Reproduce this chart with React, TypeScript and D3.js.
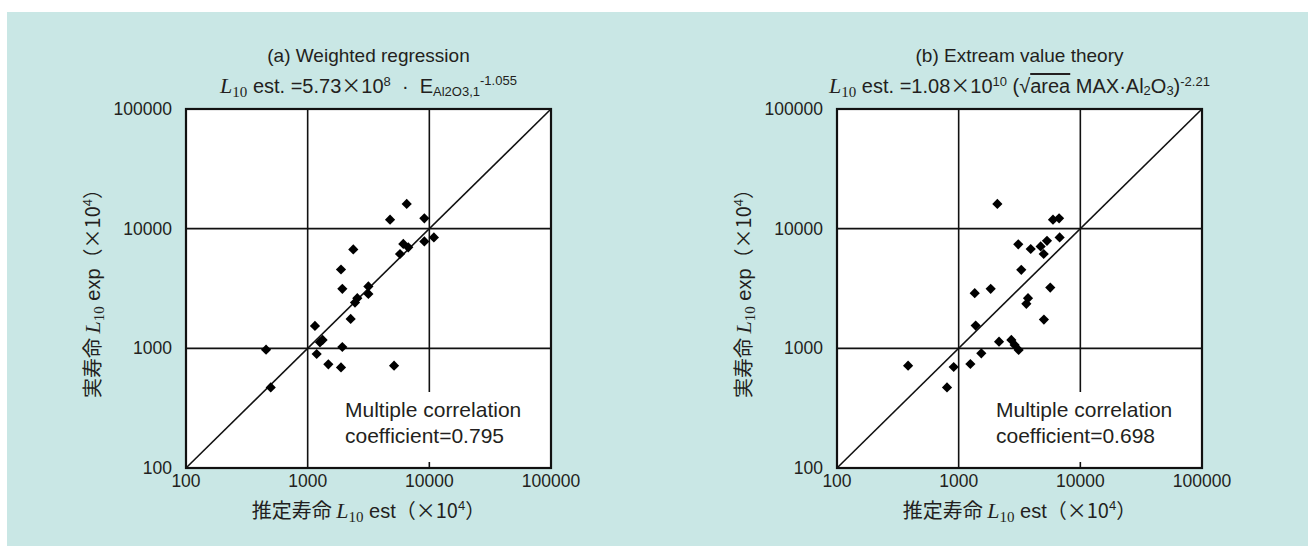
import React from "react";
import * as d3 from "d3";

const tickValues = [100, 1000, 10000, 100000];
const tickLabels = ["100", "1000", "10000", "100000"];

const estA = [6516, 4755, 9100, 6110, 6710, 9100, 10900, 5740, 2371, 1879, 1927, 3155, 3155, 2558, 2449, 2256, 1148, 1327, 1262, 1927, 455, 1186, 1479, 1879, 5130, 497];
const expA = [16100, 11900, 12200, 7450, 6980, 7830, 8450, 6140, 6710, 4560, 3140, 3290, 2850, 2624, 2414, 1762, 1538, 1175, 1122, 1026, 975, 897, 735, 693, 716, 471];

const estB = [2080, 5960, 6690, 6760, 5320, 4720, 5000, 3910, 3090, 3270, 1833, 1355, 5660, 3715, 3600, 5020, 1380, 2147, 2710, 2884, 3112, 1535, 1248, 910, 384, 802];
const expB = [16100, 11900, 12200, 8450, 7920, 7110, 6140, 6760, 7400, 4530, 3140, 2890, 3220, 2624, 2356, 1738, 1548, 1137, 1175, 1067, 968, 908, 740, 698, 716, 471];

const titles = ["(a) Weighted regression", "(b) Extream value theory"];
const corrText = ["coefficient=0.795", "coefficient=0.698"];

const FONT = "'Liberation Sans', Arial, Helvetica, sans-serif";
const CJK = "'Noto Sans CJK JP', sans-serif";
const SERIF = "'Liberation Serif', 'DejaVu Serif', serif";
const TXT = "#231f20";

function Panel({ left, est, exp, title, corr, eq }: any) {
  const top = 109, size = 365, h = 359;
  const x = d3.scaleLog().domain([100, 100000]).range([left, left + size]);
  const y = d3.scaleLog().domain([100, 100000]).range([top + h, top]);
  const cx = left + size / 2;
  const diamond = d3.symbol(d3.symbolSquare, 52)() as string;
  return (
    <g fontFamily={FONT} fill={TXT}>
      <text x={cx} y={62} textAnchor="middle" fontSize={19}>{title}</text>
      {eq(cx)}
      <rect x={left} y={top} width={size} height={h} fill="#fff" />
      {tickValues.slice(1, 3).map((v) => (
        <g key={v}>
          <line x1={x(v)} x2={x(v)} y1={top} y2={top + h} stroke="#111" strokeWidth={1.6} />
          <line x1={left} x2={left + size} y1={y(v)} y2={y(v)} stroke="#111" strokeWidth={1.6} />
        </g>
      ))}
      <line x1={x(100)} y1={y(100)} x2={x(100000)} y2={y(100000)} stroke="#111" strokeWidth={1.6} />
      <rect x={left + 156} y={top + 283} width={200} height={70} fill="#fff" />
      <text x={left + 159} y={top + 308} fontSize={21}>Multiple correlation</text>
      <text x={left + 159} y={top + 334} fontSize={21}>{corr}</text>
      {est.map((e: number, i: number) => (
        <path key={i} d={diamond} transform={`translate(${x(e)},${y(exp[i])}) rotate(45)`} fill="#000" />
      ))}
      <rect x={left} y={top} width={size} height={h} fill="none" stroke="#111" strokeWidth={2.2} />
      {tickValues.map((v, i) => (
        <text key={"y" + v} x={left - 14} y={y(v) + 6} textAnchor="end" fontSize={17.5}>{tickLabels[i]}</text>
      ))}
      {tickValues.map((v, i) => (
        <text key={"x" + v} x={x(v)} y={top + h + 19} textAnchor="middle" fontSize={17.5}>{tickLabels[i]}</text>
      ))}
      <text x={cx} y={518} textAnchor="middle" fontSize={20}>
        <tspan fontFamily={CJK}>推定寿命 </tspan>
        <tspan fontFamily={SERIF} fontStyle="italic" fontSize={22}>L</tspan>
        <tspan fontFamily={SERIF} fontSize={15} dy={4}>10</tspan>
        <tspan dy={-4}> est</tspan>
        <tspan fontFamily={CJK}>（×10</tspan>
        <tspan fontSize={13} dy={-8}>4</tspan>
        <tspan fontFamily={CJK} dy={8}>）</tspan>
      </text>
      <text transform={`translate(${left - 86},${top + h / 2}) rotate(-90)`} textAnchor="middle" fontSize={20}>
        <tspan fontFamily={CJK}>実寿命 </tspan>
        <tspan fontFamily={SERIF} fontStyle="italic" fontSize={22}>L</tspan>
        <tspan fontFamily={SERIF} fontSize={15} dy={4}>10</tspan>
        <tspan dy={-4}> exp</tspan>
        <tspan fontFamily={CJK}>（×10</tspan>
        <tspan fontSize={13} dy={-8}>4</tspan>
        <tspan fontFamily={CJK} dy={8}>）</tspan>
      </text>
    </g>
  );
}

const eqA = (cx: number) => (
  <text x={cx} y={93} textAnchor="middle" fontSize={20}>
    <tspan fontFamily={SERIF} fontStyle="italic" fontSize={22}>L</tspan>
    <tspan fontFamily={SERIF} fontSize={15} dy={4}>10</tspan>
    <tspan dy={-4}> est. =5.73</tspan>
    <tspan fontFamily={CJK}>×</tspan>
    <tspan>10</tspan>
    <tspan fontSize={13} dy={-7}>8</tspan>
    <tspan dy={7}>{"\u00A0\u00A0·\u00A0\u00A0E"}</tspan>
    <tspan fontSize={13} dy={3}>Al2O3,1</tspan>
    <tspan fontSize={13} dy={-11}>-1.055</tspan>
  </text>
);

const eqB = (cx: number) => (
  <text x={cx} y={93} textAnchor="middle" fontSize={20}>
    <tspan fontFamily={SERIF} fontStyle="italic" fontSize={22}>L</tspan>
    <tspan fontFamily={SERIF} fontSize={15} dy={4}>10</tspan>
    <tspan dy={-4}> est. =1.08</tspan>
    <tspan fontFamily={CJK}>×</tspan>
    <tspan>10</tspan>
    <tspan fontSize={13} dy={-7}>10</tspan>
    <tspan dy={7}> (√</tspan>
    <tspan textDecoration="overline">area</tspan>
    <tspan> MAX·Al</tspan>
    <tspan fontSize={13} dy={2}>2</tspan>
    <tspan dy={-2}>O</tspan>
    <tspan fontSize={13} dy={2}>3</tspan>
    <tspan dy={-2}>)</tspan>
    <tspan fontSize={13} dy={-7}>-2.21</tspan>
  </text>
);

export default function App() {
  return (
    <svg width={1308} height={546} style={{ position: "absolute", left: 0, top: 0 }}>
      <rect x={7} y={12} width={1301} height={534} fill="#c9e7e5" />
      <Panel left={186} est={estA} exp={expA} title={titles[0]} corr={corrText[0]} eq={eqA} />
      <Panel left={837} est={estB} exp={expB} title={titles[1]} corr={corrText[1]} eq={eqB} />
    </svg>
  );
}
